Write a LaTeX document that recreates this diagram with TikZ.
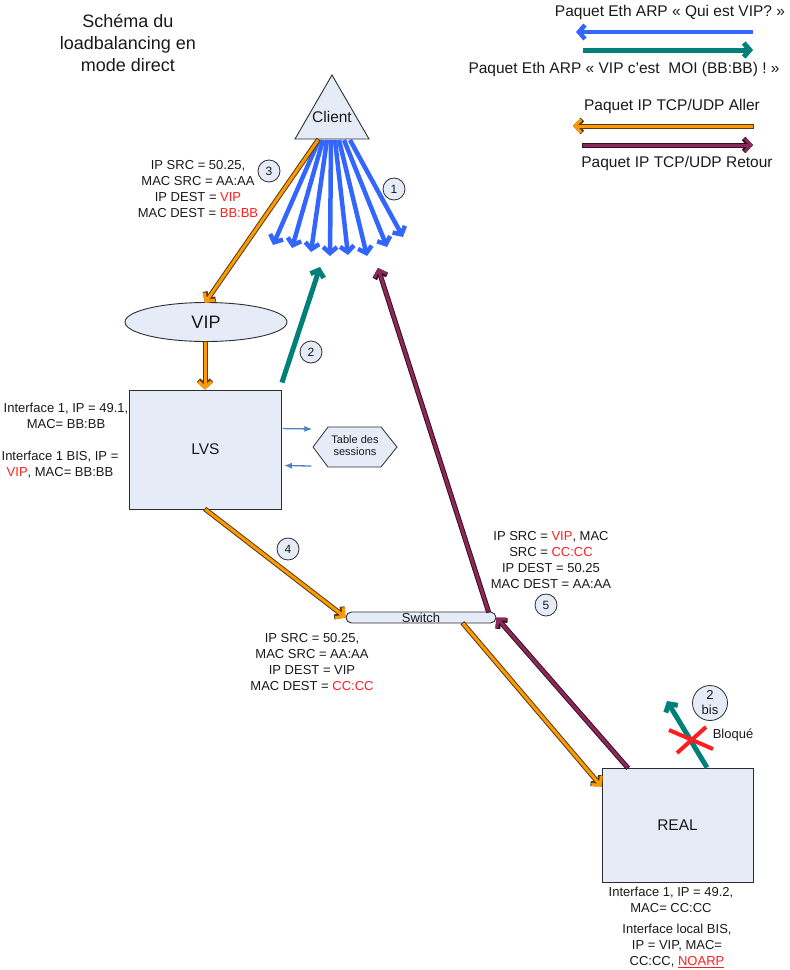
\documentclass[tikz,border=0pt]{standalone}
\usepackage{fontspec}
\setmainfont{Liberation Sans}
\usetikzlibrary{arrows.meta,shapes.geometric,calc}
\definecolor{boxfill}{RGB}{230,236,247}
\definecolor{boxline}{RGB}{45,45,45}
\definecolor{arpblue}{RGB}{51,102,255}
\definecolor{arpteal}{RGB}{0,128,120}
\definecolor{ipor}{RGB}{255,153,0}
\definecolor{iporline}{RGB}{85,60,25}
\definecolor{ipret}{RGB}{140,40,90}
\definecolor{ipretline}{RGB}{55,15,35}
\definecolor{txtred}{RGB}{255,30,30}
\definecolor{txt}{RGB}{25,25,25}
\definecolor{smallblue}{RGB}{79,129,189}
\begin{document}
\begin{tikzpicture}[x=1pt,y=-1pt,
  every node/.style={text=txt, inner sep=0pt},
  lbl/.style={font=\fontsize{13}{16}\selectfont, align=center},
  legend/.style={font=\fontsize{15.5}{18}\selectfont},
  shapebox/.style={draw=boxline, fill=boxfill, line width=0.9pt},
  numc/.style={circle, draw=boxline, fill=boxfill, line width=0.8pt, minimum size=22pt, inner sep=0pt, font=\fontsize{12}{13}\selectfont, align=center},
  bluearrow/.style={draw=arpblue, line width=4.5pt, -{Straight Barb[length=6pt,width=14pt]}},
  tealarrow/.style={draw=arpteal, line width=5pt, -{Straight Barb[length=6pt,width=14pt]}},
  orarrow/.style={draw=ipor, line width=3pt, -{Straight Barb[length=6pt,width=13pt,line width=3pt]},
    preaction={draw=iporline, line width=5pt, shorten <=-1pt, -{Straight Barb[length=6pt,width=13pt,line width=5pt]}}},
  retarrow/.style={draw=ipret, line width=3pt, -{Straight Barb[length=6pt,width=13pt,line width=3pt]},
    preaction={draw=ipretline, line width=5pt, shorten <=-1pt, -{Straight Barb[length=6pt,width=13pt,line width=5pt]}}},
  tblarrow/.style={draw=smallblue, line width=1.3pt, -{Latex[length=8pt,width=6pt]}},
  cross/.style={draw=txtred, line width=4pt}
]
\useasboundingbox (0,0) rectangle (790,970);

% Title
\node[font=\fontsize{18}{22}\selectfont, align=center] (title) at (128,43) {Schéma du\\loadbalancing en\\mode direct};

% Legend
\node[legend] (leg1) at (670,12) {Paquet Eth ARP « Qui est VIP? »};
\node[legend] (leg2) at (624,69) {Paquet Eth ARP « VIP c’est\ \ MOI (BB:BB) ! »};
\node[legend] (leg3) at (672,106) {Paquet IP TCP/UDP Aller};
\node[legend] (leg4) at (677,163) {Paquet IP TCP/UDP Retour};
\coordinate (lb1) at (753,32); \coordinate (lb2) at (576,32);
\coordinate (lt1) at (583,50); \coordinate (lt2) at (753,50);
\coordinate (lo1) at (753,126); \coordinate (lo2) at (573,126);
\coordinate (lr1) at (583,145); \coordinate (lr2) at (753,145);
\draw[bluearrow] (lb1) -- (lb2);
\draw[tealarrow] (lt1) -- (lt2);
\draw[orarrow] (lo1) -- (lo2);
\draw[retarrow] (lr1) -- (lr2);

% Client
\draw[shapebox] (332,75) -- (369,139) -- (295,139) -- cycle;
\node[font=\fontsize{15.5}{18}\selectfont] (client) at (332,117) {Client};

% VIP
\node[ellipse, shapebox, minimum width=162pt, minimum height=39pt, font=\fontsize{18}{20}\selectfont] (vip) at (206,322) {VIP};

% LVS
\node[rectangle, shapebox, minimum width=152pt, minimum height=119pt, font=\fontsize{15.5}{18}\selectfont] (lvs) at (205.5,449.5) {LVS};

% Table des sessions
\node[font=\fontsize{11}{12}\selectfont, align=center] (table) at (355,446) {};
\draw[shapebox, line width=0.8pt] (313,447) -- (328,427) -- (381,427) -- (397,447) -- (381,467) -- (328,467) -- cycle;
\node[font=\fontsize{11}{12}\selectfont, align=center] at (table) {Table des\\sessions};

% Switch
\node[rectangle, rounded corners=5.5pt, shapebox, minimum width=150pt, minimum height=11pt, font=\fontsize{13}{13}\selectfont] (switch) at (421,617.5) {Switch};

% REAL
\node[rectangle, shapebox, minimum width=151pt, minimum height=114pt, font=\fontsize{15.5}{18}\selectfont] (real) at (677.5,825) {REAL};

% Fan of ARP requests (1)
\foreach \sx/\ex/\ey [count=\i] in {319/273/245, 323/292/248, 327/311/252, 331/330/256, 335/348/255, 339/367/256, 344/387/247, 350/403/237}{
  \coordinate (fs\i) at (\sx,140);
  \coordinate (fe\i) at (\ex,\ey);
  \draw[bluearrow] (fs\i) -- (fe\i);
}

% Coordinates for connectors
\coordinate (c3s) at (318,140);
\coordinate (c3e) at (205,303);
\coordinate (t2s) at ($(lvs.north east)+(0,-7)$);
\coordinate (t2e) at (320,267);
\coordinate (r5s) at ($(switch.north east)+(-8,0)$);
\coordinate (r5e) at (378,268);
\coordinate (o6s) at ($(switch.south)+(42,0)$);
\coordinate (o6e) at ($(real.north west)+(0,19)$);
\coordinate (r7s) at ($(real.north west)+(26,0)$);
\coordinate (t8s) at ($(real.north)+(29.5,0)$);
\coordinate (t8e) at (667,701);

% Arrows
\draw[orarrow] (c3s) -- (c3e);
\draw[orarrow] (vip.south -| 205,0) -- (lvs.north -| 205,0);
\draw[tealarrow] (t2s) -- (t2e);
\draw[orarrow] (lvs.south) -- (switch.west);
\draw[retarrow] (r5s) -- (r5e);
\draw[orarrow] (o6s) -- (o6e);
\draw[retarrow] (r7s) -- (switch.east);
\draw[tealarrow] (t8s) -- (t8e);
\draw[tblarrow] ($(lvs.north east)+(1,39)$) -- ($(table.west)+(-42,-17)$);
\draw[tblarrow] ($(table.west)+(-43,20)$) -- ($(lvs.north east)+(2,76)$);

% Blocked cross
\coordinate (x1a) at (669,730); \coordinate (x1b) at (713,749);
\coordinate (x2a) at (677,753); \coordinate (x2b) at (706,727);
\draw[cross] (x1a) -- (x1b);
\draw[cross] (x2a) -- (x2b);
\node[font=\fontsize{13}{15}\selectfont] (bloque) at (733,735) {Bloqué};

% Numbered circles
\node[numc] (n1) at (394,189) {1};
\node[numc] (n2) at (311,352) {2};
\node[numc] (n3) at (269,171) {3};
\node[numc] (n4) at (288,549) {4};
\node[numc] (n5) at (546,605) {5};
\node[numc, minimum size=35pt, font=\fontsize{13}{15}\selectfont] (n2b) at (710,703) {2\\bis};

% Labels
\node[lbl] (lab3) at (198,189) {IP SRC = 50.25,\\MAC SRC = AA:AA\\IP DEST = \textcolor{txtred}{VIP}\\MAC DEST = \textcolor{txtred}{BB:BB}};
\node[lbl] (lab4) at (312,662) {IP SRC = 50.25,\\MAC SRC = AA:AA\\IP DEST = VIP\\MAC DEST = \textcolor{txtred}{CC:CC}};
\node[lbl] (lab5) at (551,560) {IP SRC = \textcolor{txtred}{VIP}, MAC\\SRC = \textcolor{txtred}{CC:CC}\\IP DEST = 50.25\\MAC DEST = AA:AA};
\node[lbl] (lvsif1) at (66,416) {Interface 1, IP = 49.1,\\MAC= BB:BB};
\node[lbl] (lvsif2) at (60,465) {Interface 1 BIS, IP =\\\textcolor{txtred}{VIP}, MAC= BB:BB};
\node[lbl] (realif1) at (671,900) {Interface 1, IP = 49.2,\\MAC= CC:CC};
\node[lbl] (realif2) at (677,946) {Interface local BIS,\\IP = VIP, MAC=\\CC:CC, \textcolor{txtred}{\underline{NOARP}}};
\end{tikzpicture}
\end{document}
